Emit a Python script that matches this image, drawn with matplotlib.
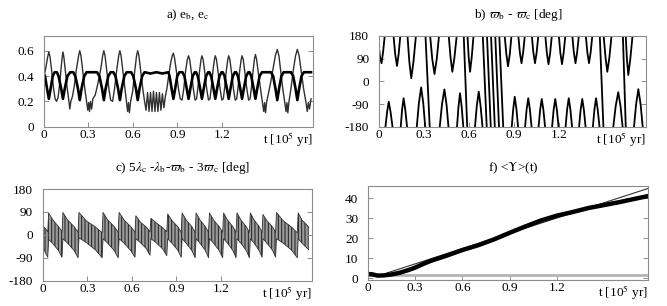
import numpy as np
import matplotlib
matplotlib.use("Agg")
import matplotlib.pyplot as plt

plt.rcParams['font.family'] = ['Liberation Serif', 'DejaVu Serif']
plt.rcParams['mathtext.fontset'] = 'stix'
plt.rcParams['axes.unicode_minus'] = False
plt.rcParams['hatch.linewidth'] = 0.7

nan = np.nan

# ---------------- panel a : eccentricities ----------------
ta_c = [0.000, 0.015, 0.028, 0.036, 0.044, 0.055, 0.068, 0.078, 0.088, 0.098,
        0.108, 0.118, 0.126, 0.131, 0.137, 0.147, 0.160, 0.170, 0.177, 0.184,
        0.195, 0.207, 0.220, 0.236, 0.244, 0.252, 0.264, 0.278, 0.290, 0.298,
        0.304, 0.310, 0.316, 0.324, 0.332, 0.348, 0.366, 0.386, 0.398, 0.406,
        0.414, 0.426, 0.440, 0.452, 0.465, 0.478, 0.492, 0.506, 0.514, 0.522,
        0.534, 0.548, 0.558, 0.566, 0.572, 0.578, 0.586, 0.600, 0.614, 0.626,
        0.634, 0.642, 0.654, 0.668, 0.680, 0.690, 0.700, 0.710, 0.720, 0.730,
        0.740, 0.750, 0.760, 0.770, 0.780, 0.790, 0.800, 0.810, 0.820, 0.830,
        0.842, 0.855, 0.866, 0.874, 0.882, 0.894, 0.908, 0.920, 0.932, 0.944,
        0.956, 0.968, 0.976, 0.984, 0.996, 1.008, 1.020, 1.030, 1.040, 1.050,
        1.060, 1.066, 1.074, 1.086, 1.098, 1.110, 1.120, 1.130, 1.140, 1.150,
        1.156, 1.164, 1.176, 1.188, 1.200, 1.210, 1.220, 1.230, 1.240, 1.246,
        1.254, 1.266, 1.278, 1.290, 1.300, 1.310, 1.320, 1.330, 1.336, 1.344,
        1.356, 1.368, 1.380, 1.390, 1.400, 1.410, 1.420, 1.426, 1.434, 1.446,
        1.460, 1.472, 1.482, 1.488, 1.494, 1.502, 1.515, 1.530, 1.545, 1.560,
        1.573, 1.584, 1.596, 1.610, 1.622, 1.632, 1.638, 1.644, 1.652, 1.665,
        1.680, 1.696, 1.708, 1.720, 1.734, 1.750, 1.765, 1.775, 1.782, 1.790,
        1.800]
ea_c = [0.38, 0.46, 0.55, 0.59, 0.55, 0.44, 0.30, 0.22, 0.20, 0.23,
        0.33, 0.46, 0.55, 0.59, 0.55, 0.44, 0.30, 0.21, 0.14, 0.20,
        0.24, 0.32, 0.44, 0.56, 0.60, 0.56, 0.44, 0.30, 0.20, 0.13,
        0.19, 0.12, 0.20, 0.14, 0.22, 0.25, 0.34, 0.46, 0.56, 0.60,
        0.56, 0.44, 0.30, 0.21, 0.20, 0.30, 0.44, 0.56, 0.60, 0.56,
        0.44, 0.30, 0.20, 0.12, 0.19, 0.11, 0.20, 0.28, 0.44, 0.56,
        0.60, 0.56, 0.44, 0.30, 0.20, 0.13, 0.27, 0.12, 0.27, 0.12,
        0.28, 0.12, 0.27, 0.12, 0.27, 0.13, 0.26, 0.15, 0.24, 0.30,
        0.40, 0.50, 0.56, 0.58, 0.54, 0.44, 0.30, 0.22, 0.21, 0.30,
        0.44, 0.53, 0.56, 0.53, 0.42, 0.30, 0.21, 0.22, 0.32, 0.44,
        0.53, 0.56, 0.53, 0.42, 0.30, 0.21, 0.22, 0.32, 0.44, 0.53,
        0.56, 0.53, 0.42, 0.30, 0.21, 0.22, 0.32, 0.44, 0.53, 0.56,
        0.53, 0.42, 0.30, 0.21, 0.22, 0.32, 0.44, 0.53, 0.56, 0.53,
        0.42, 0.30, 0.21, 0.22, 0.32, 0.44, 0.54, 0.57, 0.53, 0.42,
        0.30, 0.20, 0.12, 0.19, 0.11, 0.20, 0.27, 0.36, 0.46, 0.56,
        0.61, 0.56, 0.44, 0.30, 0.20, 0.12, 0.19, 0.11, 0.20, 0.30,
        0.44, 0.56, 0.61, 0.56, 0.44, 0.30, 0.20, 0.12, 0.19, 0.14,
        0.22]

ta_b = [0.000, 0.010, 0.024, 0.036, 0.048, 0.062, 0.075, 0.090, 0.101, 0.119,
        0.131, 0.143, 0.161, 0.180, 0.200, 0.214, 0.232, 0.244, 0.256, 0.274,
        0.290, 0.360, 0.376, 0.394, 0.406, 0.418, 0.436, 0.452, 0.470, 0.484,
        0.502, 0.514, 0.526, 0.544, 0.560, 0.590, 0.604, 0.622, 0.634, 0.646,
        0.664, 0.680, 0.720, 0.760, 0.800, 0.840, 0.848, 0.862, 0.874, 0.886,
        0.900, 0.915, 0.935, 0.948, 0.964, 0.976, 0.988, 1.004, 1.018, 1.026,
        1.038, 1.054, 1.066, 1.078, 1.094, 1.108, 1.116, 1.128, 1.144, 1.156,
        1.168, 1.184, 1.198, 1.206, 1.218, 1.234, 1.246, 1.258, 1.274, 1.288,
        1.296, 1.308, 1.324, 1.336, 1.348, 1.364, 1.378, 1.386, 1.398, 1.414,
        1.426, 1.438, 1.454, 1.470, 1.530, 1.545, 1.561, 1.573, 1.585, 1.601,
        1.616, 1.665, 1.680, 1.696, 1.708, 1.720, 1.736, 1.752, 1.800]
ea_b = [0.42, 0.40, 0.30, 0.22, 0.30, 0.40, 0.43, 0.43, 0.40, 0.30,
        0.22, 0.30, 0.40, 0.43, 0.43, 0.40, 0.30, 0.21, 0.30, 0.40,
        0.43, 0.43, 0.40, 0.30, 0.21, 0.30, 0.40, 0.43, 0.43, 0.40,
        0.30, 0.21, 0.30, 0.40, 0.43, 0.43, 0.40, 0.30, 0.21, 0.30,
        0.40, 0.43, 0.42, 0.43, 0.42, 0.43, 0.40, 0.30, 0.22, 0.30,
        0.40, 0.43, 0.43, 0.40, 0.30, 0.22, 0.30, 0.40, 0.43, 0.43,
        0.40, 0.30, 0.22, 0.30, 0.40, 0.43, 0.43, 0.40, 0.30, 0.22,
        0.30, 0.40, 0.43, 0.43, 0.40, 0.30, 0.22, 0.30, 0.40, 0.43,
        0.43, 0.40, 0.30, 0.22, 0.30, 0.40, 0.43, 0.43, 0.40, 0.30,
        0.22, 0.30, 0.40, 0.43, 0.43, 0.40, 0.30, 0.21, 0.30, 0.40,
        0.43, 0.43, 0.40, 0.30, 0.21, 0.30, 0.40, 0.43, 0.43]

# ---------------- panel b : varpi_b - varpi_c (wrapped, nan = wrap) ----------------
tb = [0.000, 0.008, 0.017, 0.027, 0.038, nan,
      0.043, 0.054, 0.065, 0.077, 0.090, nan,
      0.097, 0.108, 0.120, 0.131, 0.142, nan,
      0.145, 0.154, 0.164, 0.175, 0.187, nan,
      0.190, 0.202, 0.215, 0.230, 0.246, nan,
      0.252, 0.266, 0.281, 0.295, 0.308, nan,
      0.310, 0.338, nan,
      0.341, 0.355, 0.370, 0.385, 0.400, nan,
      0.405, 0.420, 0.436, 0.450, 0.463, nan,
      0.465, 0.477, 0.489, 0.503, 0.518, nan,
      0.520, 0.530, 0.540, 0.551, 0.562, nan,
      0.565, 0.588, nan,
      0.590, 0.598, 0.607, 0.618, 0.630, nan,
      0.640, 0.652, 0.665, 0.677, 0.690, nan,
      0.692, 0.718, nan, 0.720, 0.745, nan, 0.747, 0.772, nan,
      0.775, 0.800, nan, 0.802, 0.828, nan,
      0.838, 0.849, 0.860, 0.872, 0.883, nan,
      0.885, 0.895, 0.905, 0.916, 0.927, nan,
      0.929, 0.939, 0.950, 0.961, 0.972, nan,
      0.974, 0.984, 0.995, 1.006, 1.017, nan,
      1.019, 1.029, 1.040, 1.051, 1.062, nan,
      1.064, 1.074, 1.085, 1.096, 1.107, nan,
      1.109, 1.119, 1.130, 1.141, 1.152, nan,
      1.154, 1.164, 1.175, 1.186, 1.197, nan,
      1.199, 1.209, 1.220, 1.231, 1.242, nan,
      1.244, 1.254, 1.265, 1.276, 1.287, nan,
      1.289, 1.299, 1.310, 1.321, 1.332, nan,
      1.334, 1.344, 1.355, 1.366, 1.377, nan,
      1.379, 1.389, 1.400, 1.411, 1.422, nan,
      1.426, 1.436, 1.447, 1.458, 1.470, nan,
      1.472, 1.496, nan,
      1.498, 1.510, 1.522, 1.536, 1.550, nan,
      1.562, 1.578, 1.595, 1.610, 1.624, nan,
      1.626, 1.645, nan,
      1.645, 1.653, 1.662, 1.675, 1.690, nan,
      1.700, 1.714, 1.729, 1.744, 1.758]
wb = [131, 92, 72, 115, 180, nan,
      -180, -121, -81, -121, -180, nan,
      180, 108, 61, 108, 180, nan,
      -180, -112, -67, -112, -180, nan,
      180, 79, 12, 79, 180, nan,
      -180, -86, -24, -86, -180, nan,
      180, -180, nan,
      180, 89, 29, 89, 180, nan,
      -180, -91, -32, -91, -180, nan,
      180, 95, 38, 95, 180, nan,
      -180, -100, -47, -100, -180, nan,
      180, -180, nan,
      180, 95, 38, 95, 180, nan,
      -180, -97, -41, -97, -180, nan,
      180, -180, nan, 180, -180, nan, 180, -180, nan,
      180, -180, nan, 180, -180, nan,
      180, 108, 60, 108, 180, nan,
      -180, -109, -61, -109, -180, nan,
      180, 115, 72, 115, 180, nan,
      -180, -112, -67, -112, -180, nan,
      180, 115, 72, 115, 180, nan,
      -180, -114, -70, -114, -180, nan,
      180, 113, 68, 113, 180, nan,
      -180, -114, -70, -114, -180, nan,
      180, 113, 68, 113, 180, nan,
      -180, -112, -67, -112, -180, nan,
      180, 115, 72, 115, 180, nan,
      -180, -114, -70, -114, -180, nan,
      180, 115, 72, 115, 180, nan,
      -180, -112, -67, -112, -180, nan,
      180, -180, nan,
      180, 95, 38, 95, 180, nan,
      -180, -98, -43, -98, -180, nan,
      180, -180, nan,
      180, 87, 25, 87, 180, nan,
      -180, -91, -31, -91, -180]

# ---------------- panel c : resonant angle, envelope of the fast oscillation ----------------
tc = [0.000, 0.018, 0.034, 0.040, 0.069, 0.107, 0.130, 0.136, 0.168, 0.212,
      0.238, 0.244, 0.293, 0.357, 0.400, 0.406, 0.438, 0.482, 0.508, 0.514,
      0.548, 0.593, 0.621, 0.627, 0.657, 0.698, 0.722, 0.728, 0.762, 0.807,
      0.835, 0.841, 0.870, 0.909, 0.932, 0.938, 0.966, 1.004, 1.026, 1.032,
      1.059, 1.095, 1.116, 1.122, 1.150, 1.188, 1.211, 1.217, 1.244, 1.280,
      1.301, 1.307, 1.334, 1.370, 1.391, 1.397, 1.423, 1.457, 1.476, 1.482,
      1.509, 1.546, 1.567, 1.573, 1.617, 1.675, 1.713, 1.719, 1.745, 1.775,
      1.790]
c_up = [35, 25, 12, 86, 58, 32, 12, 88, 58, 32,
        10, 88, 55, 30, 8, 88, 58, 32, 10, 88,
        58, 32, 10, 75, 50, 30, 12, 65, 48, 28,
        12, 82, 56, 32, 10, 86, 58, 32, 10, 86,
        58, 32, 10, 86, 58, 32, 10, 86, 58, 32,
        10, 86, 58, 32, 10, 86, 58, 32, 10, 80,
        55, 32, 10, 88, 56, 30, 8, 86, 58, 40,
        30]
c_lo = [-40, -70, -88, -18, -35, -62, -88, -15, -33, -62,
        -90, -12, -30, -60, -90, -15, -33, -62, -90, -15,
        -33, -62, -88, -15, -30, -55, -80, -15, -30, -55,
        -82, -15, -33, -60, -88, -15, -33, -62, -90, -15,
        -33, -62, -90, -15, -33, -62, -90, -15, -33, -62,
        -90, -15, -33, -62, -90, -15, -33, -62, -88, -15,
        -33, -60, -88, -15, -32, -60, -90, -15, -33, -50,
        -58]

# ---------------- panel f : <Y>(t) ----------------
tf = [0.00, 0.03, 0.06, 0.10, 0.15, 0.20, 0.25, 0.30, 0.35, 0.40, 0.50, 0.60,
      0.70, 0.80, 0.90, 1.00, 1.10, 1.20, 1.30, 1.40, 1.50, 1.60, 1.70, 1.78]
yf = [2.0, 1.8, 1.2, 1.3, 1.8, 2.6, 3.8, 5.2, 7.0, 8.6, 11.2, 14.0,
      16.4, 19.3, 22.6, 25.8, 28.8, 31.2, 33.0, 35.0, 36.5, 38.0, 39.7, 41.0]
tf_fit = [0.12, 1.78]
yf_fit = [2.5, 44.8]
y_ref = 1.5

xt = [0, 0.3, 0.6, 0.9, 1.2]
xtl = ['0', '0.3', '0.6', '0.9', '1.2']

W, H = 667, 306
fig = plt.figure(figsize=(W / 100, H / 100), dpi=100)

def box(l, r, t, b):
    return [l / W, 1 - b / H, (r - l) / W, (b - t) / H]

axa = fig.add_axes(box(43.5, 312.5, 35.5, 126.7))
axb = fig.add_axes(box(379, 646, 36, 126.7))
axc = fig.add_axes(box(42.7, 311.7, 189, 280.7))
axf = fig.add_axes(box(368, 648, 186.3, 279.7))

FS = 9.5

def style(ax):
    for s in ax.spines.values():
        s.set_color('#8c8c8c')
        s.set_linewidth(0.8)
    ax.tick_params(direction='in', length=3.5, width=0.7, color='#8c8c8c',
                   left=True, right=True, bottom=True, top=False,
                   labelsize=FS)
    ax.tick_params(axis='y', pad=7)
    ax.tick_params(axis='x', pad=2)
    ax.set_xticks(xt)
    ax.set_xticklabels(xtl)
    ax.annotate(r't [10$^5$ yr]', xy=(1.0, 0), xycoords='axes fraction',
                xytext=(0, -2.6), textcoords='offset points',
                ha='right', va='top', fontsize=FS)

# a
axa.plot(ta_c, ea_c, color='#303030', lw=1.0)
axa.plot(ta_b, ea_b, color='black', lw=1.9)
axa.set_xlim(0, 1.81)
axa.set_ylim(0, 0.72)
axa.set_yticks([0, 0.2, 0.4, 0.6])
axa.set_yticklabels(['0', '0.2', '0.4', '0.6'])
style(axa)

# b
axb.plot(tb, wb, color='black', lw=1.3)
axb.set_xlim(0, 1.78)
axb.set_ylim(-180, 180)
axb.set_yticks([-180, -90, 0, 90, 180])
style(axb)

# c
axc.fill_between(tc, c_lo, c_up, facecolor='#9a9a9a', edgecolor='#1e1e1e',
                 hatch='|||||', lw=0)
axc.plot(tc, c_up, color='#333333', lw=0.6)
axc.plot(tc, c_lo, color='#333333', lw=0.6)
axc.set_xlim(0, 1.81)
axc.set_ylim(-180, 180)
axc.set_yticks([-180, -90, 0, 90, 180])
style(axc)

# f
axf.axhline(y_ref, color='#b4b4b4', lw=2.0)
axf.plot(tf_fit, yf_fit, color='#333333', lw=0.8)
axf.plot(tf, yf, color='black', lw=3.2)
axf.set_xlim(0, 1.78)
axf.set_ylim(-0.85, 45.9)
axf.set_yticks([0, 10, 20, 30, 40])
style(axf)

TS = 9.5
fig.text(188 / W, 1 - 15 / H, r'a) e$_\mathrm{b}$, e$_\mathrm{c}$', ha='center', va='center', fontsize=TS)
fig.text(518.5 / W, 1 - 15 / H, r'b) $\varpi_\mathrm{b}$ - $\varpi_\mathrm{c}$ [deg]', ha='center', va='center', fontsize=TS)
fig.text(182.5 / W, 1 - 168 / H,
         r'c) 5$\lambda_\mathrm{c}$ -$\lambda_\mathrm{b}$-$\varpi_\mathrm{b}$ - 3$\varpi_\mathrm{c}$ [deg]',
         ha='center', va='center', fontsize=TS)
fig.text(513 / W, 1 - 168 / H, r'f) <$\Upsilon$>(t)', ha='center', va='center', fontsize=TS)

fig.savefig('out.png', dpi=100)
